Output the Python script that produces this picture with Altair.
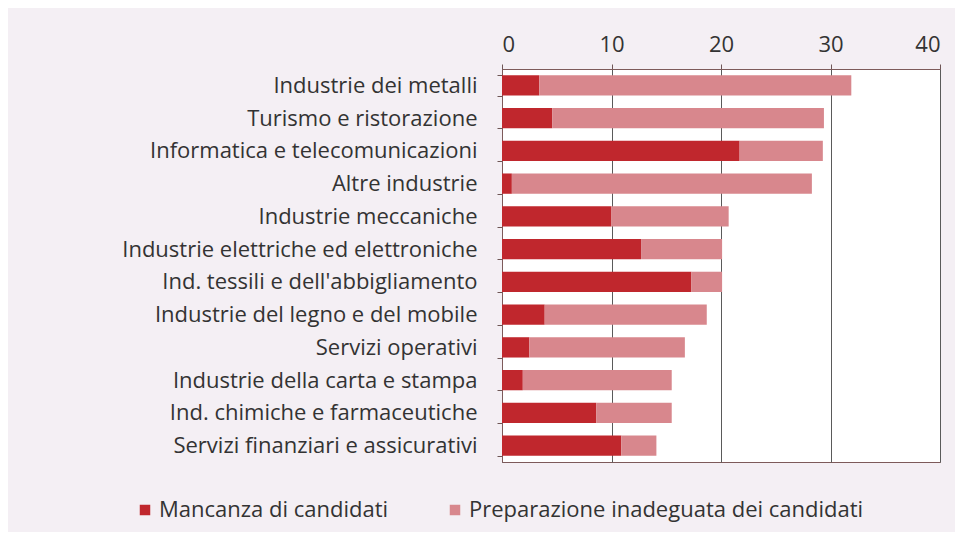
import altair as alt
import pandas as pd

categories = [
    "Industrie dei metalli",
    "Turismo e ristorazione",
    "Informatica e telecomunicazioni",
    "Altre industrie",
    "Industrie meccaniche",
    "Industrie elettriche ed elettroniche",
    "Ind. tessili e dell'abbigliamento",
    "Industrie del legno e del mobile",
    "Servizi operativi",
    "Industrie della carta e stampa",
    "Ind. chimiche e farmaceutiche",
    "Servizi finanziari e assicurativi",
]
mancanza = [3.4, 4.6, 21.7, 0.9, 10.0, 12.7, 17.3, 3.9, 2.5, 1.9, 8.6, 10.9]
totale = [31.9, 29.4, 29.3, 28.3, 20.7, 20.1, 20.1, 18.7, 16.7, 15.5, 15.5, 14.1]
series = ["Mancanza di candidati", "Preparazione inadeguata dei candidati"]
colors = ["#c0272d", "#d8878d"]

rows = []
for c, m, t in zip(categories, mancanza, totale):
    rows.append({"cat": c, "serie": series[0], "val": m, "ord": 0})
    rows.append({"cat": c, "serie": series[1], "val": round(t - m, 2), "ord": 1})
df = pd.DataFrame(rows)

FONT = "Open Sans"
FS = 22

chart = alt.Chart(df).mark_bar().encode(
    y=alt.Y("cat:N", sort=categories, title=None,
            scale=alt.Scale(paddingInner=0.38, paddingOuter=0.19),
            axis=alt.Axis(labelFontSize=FS, labelFont=FONT, labelColor="#333333",
                          labelPadding=20, tickBand="extent", tickSize=5,
                          tickColor="#6e5656", domainColor="#7d5a5a", labelLimit=480)),
    x=alt.X("val:Q", stack="zero", title=None,
            scale=alt.Scale(domain=[0, 40], nice=False),
            axis=alt.Axis(orient="top", values=[0, 10, 20, 30, 40], labelFontSize=FS,
                          labelFont=FONT, labelColor="#333333", tickSize=5,
                          tickColor="#6e5656", domainColor="#7d5a5a",
                          gridColor="#5a5a5a", gridOpacity=1, labelPadding=8)),
    color=alt.Color("serie:N", sort=series,
                    scale=alt.Scale(domain=series, range=colors),
                    legend=alt.Legend(title=None, orient="none", direction="horizontal",
                                      legendX=-368, legendY=430, symbolType="square",
                                      symbolSize=110, symbolStrokeWidth=0,
                                      labelFontSize=FS, labelFont=FONT,
                                      labelColor="#333333", columnPadding=55,
                                      labelOffset=3, labelLimit=600)),
    order=alt.Order("ord:Q"),
).properties(
    width=438, height=393,
    padding={"left": 494, "top": 61, "right": 15, "bottom": 70},
    autosize=alt.AutoSizeParams(type="none"),
    background="#f4eff4",
).configure_view(fill="white", stroke="#7d5a5a", strokeWidth=1)

chart.save("out.html", embed_options={"renderer": "svg", "actions": False})
